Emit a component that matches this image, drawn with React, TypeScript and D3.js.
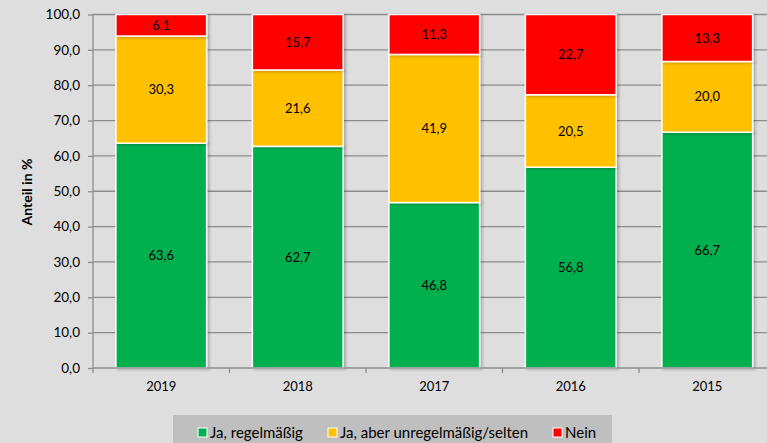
import React, { useEffect, useRef } from "react";
import * as d3 from "d3";

const years = ["2019", "2018", "2017", "2016", "2015"];
const regular = [63.6, 62.7, 46.8, 56.8, 66.7];
const irregular = [30.3, 21.6, 41.9, 20.5, 20.0];
const no = [6.1, 15.7, 11.3, 22.7, 13.3];
const seriesNames = ["Ja, regelmäßig", "Ja, aber unregelmäßig/selten", "Nein"];
const seriesColors = ["#00b050", "#ffc000", "#ff0000"];
const yTicks = [0, 10, 20, 30, 40, 50, 60, 70, 80, 90, 100];

const W = 767;
const H = 443;
const font = "Lato, 'Open Sans', sans-serif";
const fmt = (v: number) => v.toFixed(1).replace(".", ",");

export default function App() {
  const ref = useRef<SVGSVGElement>(null);

  useEffect(() => {
    const svg = d3.select(ref.current).html("");
    const left = 93, top = 14.5, bottom = 368;

    svg.append("rect").attr("width", W).attr("height", H).attr("fill", "#dedede");

    const x = d3.scaleBand().domain(years).range([left, left + 682.5]).paddingInner(0.335).paddingOuter(0.1675);
    const y = d3.scaleLinear().domain([0, 100]).range([bottom, top]);

    const defs = svg.append("defs");
    const f = defs.append("filter").attr("id", "sh").attr("x", "-10%").attr("y", "-10%").attr("width", "130%").attr("height", "130%");
    f.append("feDropShadow").attr("dx", 2).attr("dy", 1).attr("stdDeviation", 1.5).attr("flood-color", "#000").attr("flood-opacity", 0.25);

    // gridlines
    svg.append("g").selectAll("line").data(yTicks.slice(1)).join("line")
      .attr("x1", left).attr("x2", W).attr("y1", d => y(d)).attr("y2", d => y(d))
      .attr("stroke", "#8c8c8c").attr("stroke-width", 1.3);

    const rows = years.map((yr, i) => ({ year: yr, a: regular[i], b: irregular[i], c: no[i] }));
    const stack = d3.stack<any>().keys(["a", "b", "c"])(rows);

    const g = svg.append("g");
    stack.forEach((layer, k) => {
      g.append("g").selectAll("rect").data(layer).join("rect")
        .attr("x", d => x(d.data.year)!)
        .attr("width", x.bandwidth())
        .attr("y", d => y(d[1]))
        .attr("height", d => y(d[0]) - y(d[1]))
        .attr("fill", seriesColors[k])
        .attr("stroke", "#fff").attr("stroke-width", 1.5)
        .attr("filter", "url(#sh)");
    });
    stack.forEach(layer => {
      g.append("g").selectAll("text").data(layer).join("text")
        .attr("x", d => x(d.data.year)! + x.bandwidth() / 2)
        .attr("y", d => (y(d[0]) + y(d[1])) / 2)
        .attr("dy", "0.35em")
        .attr("text-anchor", "middle")
        .attr("font-family", font).attr("font-size", 13).attr("fill", "#000")
        .text(d => fmt(d[1] - d[0]));
    });

    // y axis
    const ya = svg.append("g").attr("transform", `translate(${left},0)`)
      .call(d3.axisLeft(y).tickValues(yTicks).tickSize(5).tickPadding(8).tickFormat(d => fmt(+d)));
    ya.select(".domain").attr("stroke", "#8c8c8c").attr("stroke-width", 1.3).attr("d", `M0,${top}V${bottom}`);
    ya.selectAll(".tick line").attr("stroke", "#8c8c8c").attr("stroke-width", 1.3);
    ya.selectAll("text").attr("font-family", font).attr("font-size", 13.5).attr("fill", "#000");

    // x axis
    const xa = svg.append("g").attr("transform", `translate(0,${bottom})`)
      .call(d3.axisBottom(x).tickSize(0).tickPadding(14));
    xa.select(".domain").attr("stroke", "#8c8c8c").attr("stroke-width", 1.3).attr("d", `M${left},0H${W}`);
    xa.selectAll("text").attr("font-family", font).attr("font-size", 13).attr("fill", "#000");
    const step = x.step();
    xa.append("g").selectAll("line").data(d3.range(years.length + 1)).join("line")
      .attr("x1", i => left + i * step).attr("x2", i => left + i * step)
      .attr("y1", 0).attr("y2", 5).attr("stroke", "#8c8c8c").attr("stroke-width", 1.3);

    svg.append("text")
      .attr("transform", `translate(32,192) rotate(-90)`)
      .attr("text-anchor", "middle").attr("font-family", font).attr("font-size", 14).attr("font-weight", "bold")
      .text("Anteil in %");

    // legend
    const lg = svg.append("g");
    lg.append("rect").attr("x", 173).attr("y", 415).attr("width", 439).attr("height", 40).attr("fill", "#bfbfbf");
    const lx = [198, 328, 553];
    seriesNames.forEach((n, i) => {
      lg.append("rect").attr("x", lx[i]).attr("y", 428).attr("width", 9).attr("height", 9)
        .attr("fill", seriesColors[i]).attr("stroke", "#fff").attr("stroke-width", 1);
      lg.append("text").attr("x", lx[i] + 12).attr("y", 438)
        .attr("font-family", font).attr("font-size", 15).attr("fill", "#000").text(n);
    });
  }, []);

  return (
    <svg ref={ref} width={W} height={H} style={{ position: "absolute", left: 0, top: 0, display: "block" }} />
  );
}
